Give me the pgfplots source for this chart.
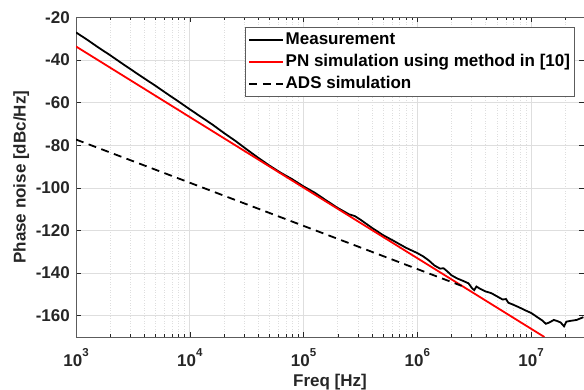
\documentclass[border=0pt]{standalone}
\usepackage{pgfplots}
\pgfplotsset{compat=1.18}
\usepackage{fontspec}
\setmainfont{Liberation Sans}
\definecolor{axgray}{RGB}{38,38,38}
\definecolor{gridgray}{RGB}{222,222,222}
\newcommand{\dec}[1]{10\raisebox{9.7pt}{\fontsize{11.5}{12}\selectfont #1}}
\begin{document}
\begin{tikzpicture}
\begin{axis}[
  scale only axis, width=508pt, height=319.5pt,
  xmode=log, xmin=1e3, xmax=2.92e7, ymin=-170, ymax=-20,
  xtick={1e3,1e4,1e5,1e6,1e7},
  xticklabels={\dec{3},\dec{4},\dec{5},\dec{6},\dec{7}},
  minor xtick={2e3,3e3,4e3,5e3,6e3,7e3,8e3,9e3,2e4,3e4,4e4,5e4,6e4,7e4,8e4,9e4,2e5,3e5,4e5,5e5,6e5,7e5,8e5,9e5,2e6,3e6,4e6,5e6,6e6,7e6,8e6,9e6,2e7},
  ytick={-160,-140,-120,-100,-80,-60,-40,-20},
  yticklabels={-160,-140,-120,-100,-80,-60,-40,-20},
  xmajorgrids, ymajorgrids, xminorgrids,
  major grid style={draw=gridgray, line width=0.6pt},
  minor grid style={draw=gridgray, line width=0.6pt, dotted},
  tick align=inside,
  major tick length=5pt, minor tick length=3pt,
  every tick/.style={draw=axgray, line width=0.5pt},
  axis line style={draw=axgray!75, line width=0.7pt},
  tick label style={font=\fontsize{17}{20}\selectfont\bfseries, text=axgray},
  xticklabel style={anchor=base, inner sep=0pt, yshift=-29.7pt},
  yticklabel style={anchor=east, inner sep=0pt, xshift=-6pt},
  label style={font=\fontsize{17}{20}\selectfont\bfseries, text=axgray},
  xlabel={Freq [Hz]},
  ylabel={Phase noise [dBc/Hz]},
  xlabel style={at={(rel axis cs:0.5,0)}, anchor=base, inner sep=0pt, yshift=-50pt},
  ylabel style={at={(rel axis cs:0,0.5)}, anchor=base, inner sep=0pt, yshift=50.5pt},
  legend cell align=left,
  legend style={at={(1,1)}, anchor=north east, xshift=-9pt, yshift=-9.8pt,
    font=\fontsize{17}{20}\selectfont\bfseries, draw=axgray!75, line width=0.6pt,
    inner xsep=3.2pt, inner ysep=2.2pt, row sep=0.5pt,
    nodes={inner xsep=1.5pt, inner ysep=2pt, text height=13pt, text depth=4.2pt}},
  legend image code/.code={\draw[#1] (0pt,0pt) -- (34pt,0pt);},
]
\addplot[black, line width=1.8pt] coordinates {
(1.000e3,-27.0) (1.259e3,-30.5) (1.585e3,-34.2) (1.995e3,-37.7) (2.512e3,-41.4)
(3.162e3,-45.0) (3.981e3,-48.6) (5.012e3,-52.1) (6.310e3,-55.8) (7.943e3,-59.4)
(1.000e4,-63.1) (1.259e4,-66.7) (1.585e4,-70.3) (1.995e4,-74.2) (2.512e4,-77.9)
(3.162e4,-81.9) (3.981e4,-85.8) (5.012e4,-89.5) (6.310e4,-92.9) (7.943e4,-95.9)
(1.000e5,-99.3) (1.259e5,-102.3) (1.585e5,-105.9) (1.995e5,-109.4) (2.512e5,-112.4)
(2.818e5,-113.2) (3.162e5,-114.9) (3.981e5,-118.7) (5.012e5,-122.2) (6.310e5,-125.1)
(7.943e5,-128.1) (1.000e6,-130.6) (1.122e6,-132.1) (1.259e6,-134.0) (1.413e6,-136.4)
(1.585e6,-137.9) (1.698e6,-137.7) (1.820e6,-139.0) (1.995e6,-141.0) (2.239e6,-142.5)
(2.512e6,-143.6) (2.818e6,-144.8) (3.020e6,-147.0) (3.162e6,-148.0) (3.311e6,-146.3)
(3.548e6,-147.3) (3.981e6,-148.6) (4.467e6,-149.4) (5.012e6,-150.9) (5.623e6,-152.4)
(6.026e6,-152.2) (6.310e6,-153.9) (7.079e6,-155.0) (7.943e6,-156.2) (8.913e6,-157.5)
(1.000e7,-158.7) (1.122e7,-160.5) (1.259e7,-162.3) (1.349e7,-163.8) (1.445e7,-163.2)
(1.585e7,-162.0) (1.698e7,-162.5) (1.820e7,-163.2) (1.950e7,-165.0) (2.042e7,-162.8)
(2.239e7,-162.4) (2.512e7,-162.0) (2.884e7,-160.7)
};
\addlegendentry{Measurement}
\addplot[red, line width=1.8pt] coordinates {(1e3,-33.6) (1.309e7,-170)};
\addlegendentry{PN simulation using method in [10]}
\addplot[black, line width=1.8pt, dash pattern=on 8pt off 5.5pt] coordinates {(1e3,-77.3) (2.455e6,-146.0)};
\addlegendentry{ADS simulation}
\end{axis}
\pgfresetboundingbox
\useasboundingbox (-76pt,-53pt) rectangle (508pt,337pt);
\end{tikzpicture}
\end{document}
